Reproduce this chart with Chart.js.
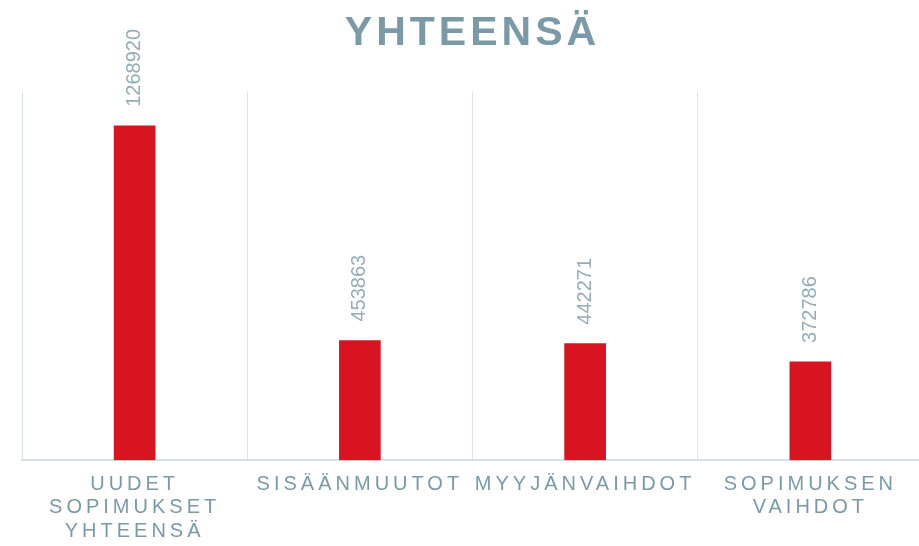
<!DOCTYPE html>
<html>
<head>
<meta charset="utf-8">
<script src="https://cdn.jsdelivr.net/npm/chart.js@4.4.1/dist/chart.umd.min.js"></script>
<style>
    html, body { margin: 0; padding: 0; overflow: hidden; background: #fff; }
    #wrap { width: 946px; height: 546px; position: relative; }
</style>
</head>
<body>
<div id="wrap"><canvas id="chart"></canvas></div>
<script>
const categories = [
    ["UUDET", "SOPIMUKSET", "YHTEENSÄ"],
    "SISÄÄNMUUTOT",
    "MYYJÄNVAIHDOT",
    ["SOPIMUKSEN", "VAIHDOT"],
];
const values = [1268920, 453863, 442271, 372786];

const titleColor = "#7a9aa8";
const labelColor = "#93adb9";
const barColor = "#d7141f";

// canvas letterSpacing gets reset when chart.js resizes the canvas, so set it each pass
const spacing = {
    id: "spacing",
    beforeLayout(chart) { chart.ctx.letterSpacing = "4px"; },
    beforeDraw(chart) { chart.ctx.letterSpacing = "4px"; },
};

const valueLabels = {
    id: "valueLabels",
    afterDatasetsDraw(chart) {
        const ctx = chart.ctx;
        const meta = chart.getDatasetMeta(0);
        ctx.save();
        ctx.letterSpacing = "0px";
        ctx.font = "20px 'Liberation Sans', Arial, sans-serif";
        ctx.fillStyle = labelColor;
        ctx.textAlign = "left";
        ctx.textBaseline = "middle";
        meta.data.forEach((bar, i) => {
            ctx.save();
            ctx.translate(bar.x, bar.y - 19);
            ctx.rotate(-Math.PI / 2);
            ctx.fillText(String(values[i]), 0, 0);
            ctx.restore();
        });
        ctx.restore();
    },
};

const ctx = document.getElementById("chart").getContext("2d");

new Chart(ctx, {
    type: "bar",
    data: {
        labels: categories,
        datasets: [
            {
                label: "Yhteensä",
                data: values,
                backgroundColor: barColor,
                barThickness: 41,
            },
        ],
    },
    options: {
        responsive: true,
        maintainAspectRatio: false,
        animation: false,
        layout: {
            padding: { left: 22, right: 23, top: 0, bottom: -9 },
        },
        plugins: {
            legend: { display: false },
            tooltip: { enabled: false },
            title: {
                display: true,
                text: "YHTEENSÄ",
                color: titleColor,
                font: { family: "'Liberation Sans', Arial, sans-serif", size: 41, weight: "bold" },
                padding: { top: 9, bottom: 33 },
            },
        },
        scales: {
            x: {
                offset: true,
                grid: {
                    offset: true,
                    color: "#dde4e8",
                    lineWidth: 1,
                    drawTicks: false,
                },
                border: { color: "#d8e0e5", width: 2 },
                ticks: {
                    color: titleColor,
                    font: { family: "'Liberation Sans', Arial, sans-serif", size: 20, lineHeight: 1.18 },
                    padding: 12,
                    maxRotation: 0,
                    minRotation: 0,
                    autoSkip: false,
                },
            },
            y: {
                display: false,
                min: 0,
                max: 1400000,
            },
        },
    },
    plugins: [spacing, valueLabels],
});
</script>
</body>
</html>
